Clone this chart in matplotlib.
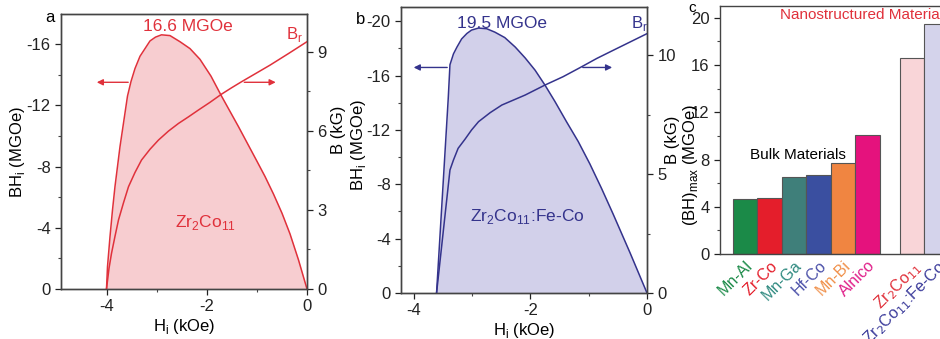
import numpy as np
import matplotlib.pyplot as plt
from matplotlib.ticker import MultipleLocator

plt.rcParams['font.family'] = ['Liberation Sans', 'DejaVu Sans']
plt.rcParams['axes.unicode_minus'] = False

# panel a: Zr2Co11  (BH product and B vs H)
h_bh_a = [-4.01, -3.99, -3.94, -3.89, -3.84, -3.79, -3.74, -3.69, -3.64, -3.59,
          -3.52, -3.44, -3.34, -3.24, -3.14, -3.03, -2.91, -2.74, -2.54, -2.34,
          -2.14, -1.92, -1.71, -1.54, -1.37, -1.19, -1.01, -0.84, -0.67, -0.50,
          -0.34, -0.17, 0]
bh_a = [0, -1.46, -3.42, -5.16, -6.7, -8.0, -9.3, -10.4, -11.5, -12.6,
        -13.55, -14.4, -15.2, -15.7, -16.2, -16.45, -16.6, -16.55, -16.15, -15.7,
        -15.0, -13.9, -12.6, -11.6, -10.6, -9.5, -8.4, -7.35, -6.2, -4.95,
        -3.6, -1.9, 0]
h_b_a = [-4.01, -3.96, -3.91, -3.84, -3.77, -3.67, -3.57, -3.44, -3.31, -3.14,
         -2.97, -2.77, -2.57, -2.37, -2.17, -1.94, -1.71, -1.51, -1.31, -1.02,
         -0.74, -0.37, 0]
b_a = [0, 0.78, 1.35, 2.0, 2.62, 3.27, 3.88, 4.42, 4.89, 5.3,
       5.65, 5.99, 6.28, 6.53, 6.79, 7.08, 7.39, 7.63, 7.86, 8.18,
       8.49, 8.93, 9.38]

# panel b: Zr2Co11:Fe-Co
h_bh_b = [-3.61, -3.41, -3.38, -3.32, -3.26, -3.18, -3.09, -3.01, -2.89, -2.75,
          -2.61, -2.44, -2.26, -2.09, -1.92, -1.75, -1.58, -1.38, -1.18, -0.98,
          -0.78, -0.58, -0.29, 0]
bh_b = [0, -14.3, -16.8, -17.6, -18.1, -18.7, -19.1, -19.35, -19.5, -19.45,
        -19.2, -18.8, -18.1, -17.3, -16.4, -15.3, -14.1, -12.6, -11.15, -9.5,
        -7.7, -5.8, -2.95, 0]
h_b_b = [-3.61, -3.38, -3.32, -3.24, -3.12, -3.01, -2.89, -2.69, -2.49, -2.29,
         -2.09, -1.75, -1.44, -1.15, -0.86, -0.58, -0.29, 0]
b_b = [0, 5.17, 5.59, 6.08, 6.47, 6.85, 7.2, 7.58, 7.9, 8.11,
       8.32, 8.74, 9.09, 9.47, 9.86, 10.2, 10.55, 10.9]

# panel c: (BH)max
materials = ['Mn-Al', 'Zr-Co', 'Mn-Ga', 'Hf-Co', 'Mn-Bi', 'Alnico',
             'Zr$_2$Co$_{11}$', 'Zr$_2$Co$_{11}$:Fe-Co']
bhmax = [4.66, 4.75, 6.55, 6.67, 7.69, 10.08, 16.6, 19.5]
bar_x = [0, 1, 2, 3, 4, 5, 6.8, 7.8]
bar_colors = ['#1b8a48', '#e41e2b', '#3f7f7a', '#3a4fa0', '#f08541', '#e5127d',
              '#f9d5d8', '#d4d3eb']
label_colors = ['#1b8a48', '#e41e2b', '#2f8a80', '#4a4fa8', '#f0904a', '#e0208a',
                '#e0303a', '#3a3a9a']

RED = '#e0313b'
RED_FILL = '#f7cdd0'
BLUE = '#34338c'
BLUE_FILL = '#d2d0ea'

W, H = 940, 339
fig = plt.figure(figsize=(W / 100, H / 100), dpi=100)


def px_axes(left, top, right, bottom):
    return fig.add_axes([left / W, 1 - bottom / H, (right - left) / W, (bottom - top) / H])


def style(ax):
    for s in ax.spines.values():
        s.set_color('#444444')
        s.set_linewidth(1.0)
    ax.tick_params(direction='out', length=4, width=0.9, labelsize=12, colors='#222222')
    ax.tick_params(which='minor', direction='out', length=2.5, width=0.8, colors='#444444')


def bh_panel(left, top, right, bottom, h_bh, bh, h_b, b, color, fill,
             xlim, ylim_bh, ylim_b, bh_major, b_major, b_minor):
    ax = px_axes(left, top, right, bottom)
    ax.fill_between(h_bh, bh, 0, color=fill, lw=0)
    ax.plot(h_bh, bh, color=color, lw=1.1)
    ax.set_xlim(*xlim)
    ax.set_ylim(*ylim_bh)
    ax.set_xticks([-4, -2, 0])
    ax.xaxis.set_minor_locator(MultipleLocator(1))
    ax.yaxis.set_major_locator(MultipleLocator(bh_major))
    ax.yaxis.set_minor_locator(MultipleLocator(bh_major / 2))
    ax.set_xlabel('H$_\\mathregular{i}$ (kOe)', fontsize=12, labelpad=2)
    style(ax)
    ax2 = ax.twinx()
    ax2.plot(h_b, b, color=color, lw=1.1)
    ax2.set_ylim(*ylim_b)
    ax2.yaxis.set_major_locator(MultipleLocator(b_major))
    ax2.yaxis.set_minor_locator(MultipleLocator(b_minor))
    style(ax2)
    return ax, ax2


# ---- panel a ----
axa, axa2 = bh_panel(61, 14, 307, 289, h_bh_a, bh_a, h_b_a, b_a, RED, RED_FILL,
                     (-4.92, 0), (0, -17.96), (0, 10.43), 4, 3, 1.5)
axa.annotate('', xy=(-4.26, -13.5), xytext=(-3.52, -13.5),
             arrowprops=dict(arrowstyle='-|>', color=RED, lw=1.0, mutation_scale=9))
axa.annotate('', xy=(-0.57, -13.5), xytext=(-1.31, -13.5),
             arrowprops=dict(arrowstyle='-|>', color=RED, lw=1.0, mutation_scale=9))
axa.text(0.516, 0.953, '16.6 MGOe', transform=axa.transAxes, color=RED, fontsize=12.5,
         ha='center', va='center')
axa.text(0.985, 0.925, 'B$_\\mathregular{r}$', transform=axa.transAxes, color=RED,
         fontsize=12, ha='right', va='center')
axa.text(0.587, 0.24, 'Zr$_\\mathregular{2}$Co$_\\mathregular{11}$', transform=axa.transAxes,
         color=RED, fontsize=12.5, ha='center', va='center')
fig.text(50 / W, 1 - 18 / H, 'a', fontsize=12, ha='center', va='center')
fig.text(18 / W, 1 - 152 / H, 'BH$_\\mathregular{i}$ (MGOe)', rotation=90, fontsize=12,
         ha='center', va='center')
fig.text(339 / W, 1 - 130 / H, 'B (kG)', rotation=90, fontsize=12, ha='center', va='center')

# ---- panel b ----
axb, axb2 = bh_panel(401, 7, 647, 293, h_bh_b, bh_b, h_b_b, b_b, BLUE, BLUE_FILL,
                     (-4.22, 0), (0, -21.05), (0, 12.02), 4, 5, 2.5)
axb.annotate('', xy=(-4.05, -16.6), xytext=(-3.38, -16.6),
             arrowprops=dict(arrowstyle='-|>', color=BLUE, lw=1.0, mutation_scale=9))
axb.annotate('', xy=(-0.55, -16.6), xytext=(-1.15, -16.6),
             arrowprops=dict(arrowstyle='-|>', color=BLUE, lw=1.0, mutation_scale=9))
axb.text(0.41, 0.944, '19.5 MGOe', transform=axb.transAxes, color=BLUE, fontsize=12.5,
         ha='center', va='center')
axb.text(1.005, 0.944, 'B$_\\mathregular{r}$', transform=axb.transAxes, color=BLUE,
         fontsize=12, ha='right', va='center')
axb.text(0.514, 0.266, 'Zr$_\\mathregular{2}$Co$_\\mathregular{11}$:Fe-Co',
         transform=axb.transAxes, color=BLUE, fontsize=12.5, ha='center', va='center')
fig.text(361 / W, 1 - 19 / H, 'b', fontsize=12, ha='center', va='center')
fig.text(359 / W, 1 - 145 / H, 'BH$_\\mathregular{i}$ (MGOe)', rotation=90, fontsize=12,
         ha='center', va='center')
fig.text(673 / W, 1 - 140 / H, 'B (kG)', rotation=90, fontsize=12, ha='center', va='center')

# ---- panel c ----
axc = px_axes(720, 6, 962, 254)
axc.bar(bar_x, bhmax, width=1.0, color=bar_colors, edgecolor='#555555', linewidth=0.8)
axc.set_xlim(-1.03, 8.85)
axc.set_ylim(0, 21)
axc.yaxis.set_major_locator(MultipleLocator(4))
axc.yaxis.set_minor_locator(MultipleLocator(2))
axc.set_xticks(bar_x)
axc.set_xticklabels(materials, rotation=45, ha='right', va='top', rotation_mode='anchor')
style(axc)
axc.tick_params(axis='x', length=0, pad=3, labelsize=11.5)
for lab, c in zip(axc.get_xticklabels(), label_colors):
    lab.set_color(c)
axc.text(2.16, 8.4, 'Bulk Materials', fontsize=11, ha='center', va='center')
axc.text(1.43, 20.2, 'Nanostructured Materials', fontsize=11, color=RED,
         ha='left', va='center')
fig.text(692 / W, 1 - 8 / H, 'c', fontsize=11, ha='center', va='center')
fig.text(690 / W, 1 - 165 / H, '(BH)$_\\mathregular{max}$ (MGOe)', rotation=90, fontsize=12,
         ha='center', va='center')

fig.savefig('out.png', dpi=100)
